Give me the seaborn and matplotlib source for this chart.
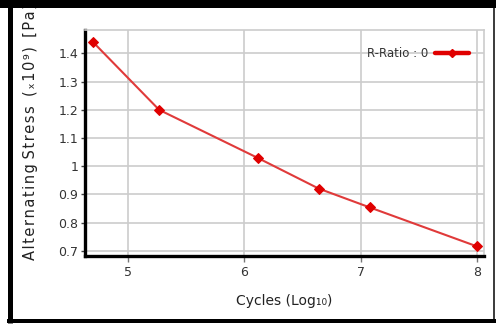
import matplotlib
matplotlib.use("Agg")
import matplotlib.pyplot as plt
from matplotlib.lines import Line2D
import seaborn as sns
import pandas as pd

cycles_log = [4.70, 5.27, 6.115, 6.64, 7.08, 8.0]
stress = [1.441, 1.200, 1.030, 0.921, 0.854, 0.716]
series_name = "R-Ratio : 0"
x_ticks = [5, 6, 7, 8]
y_ticks = [0.7, 0.8, 0.9, 1.0, 1.1, 1.2, 1.3, 1.4]
y_tick_labels = ["0.7", "0.8", "0.9", "1", "1.1", "1.2", "1.3", "1.4"]
y_label_words = ["Alternating", "Stress", "(ₓ10⁹)", "[Pa]"]
x_label = "Cycles (Log₁₀)"

df = pd.DataFrame({"x": cycles_log, "y": stress})

sns.set_style("whitegrid")
plt.rcParams["font.family"] = ["DejaVu Sans"]

fig = plt.figure(figsize=(4.96, 3.26), dpi=100)
ax = fig.add_axes([85 / 496, 70 / 326, 399 / 496, 226 / 326])

sns.lineplot(data=df, x="x", y="y", ax=ax, color="#e03a3a", linewidth=1.5,
             marker="D", markersize=5, markerfacecolor="#e00000",
             markeredgecolor="#e00000")

ax.set_xlim(4.633, 8.06)
ax.set_ylim(0.682, 1.483)
ax.set_xticks(x_ticks)
ax.set_xticklabels([str(t) for t in x_ticks])
ax.set_yticks(y_ticks)
ax.set_yticklabels(y_tick_labels)
ax.grid(True, color="#cccccc", linewidth=1.2)

for s in ["left", "bottom"]:
    ax.spines[s].set_color("black")
    ax.spines[s].set_linewidth(2.4)
for s in ["top", "right"]:
    ax.spines[s].set_color("#cccccc")
    ax.spines[s].set_linewidth(1.2)

ax.tick_params(axis="y", which="both", left=True, length=3, width=1,
               color="#444444", labelsize=9, labelcolor="#333333", pad=2)
ax.tick_params(axis="x", which="both", bottom=True, length=4, width=1,
               color="#777777", labelsize=9, labelcolor="#333333", pad=3)

ax.set_xlabel(x_label, fontsize=10, color="#222222", labelpad=11)
ax.set_ylabel("")

words = ["\u200a".join(w) for w in y_label_words]
spaced = words[0] + " " + words[1] + "  " + words[2] + "  " + words[3]
fig.text(31 / 496, 1 - 260 / 326, spaced,
         rotation=90, ha="center", va="bottom", fontsize=10.5, color="#222222")

handle = Line2D([], [], color="#e00000", linewidth=3.2, marker="D",
                markersize=4, markerfacecolor="#e00000")
leg = ax.legend([handle], [series_name], loc="upper right", frameon=False,
                fontsize=8.5, handlelength=2.9, handletextpad=0.6,
                bbox_to_anchor=(0.99, 0.97), markerfirst=False)
for t in leg.get_texts():
    t.set_color("#333333")

# outer frame of the screenshot
def fline(x0, y0, x1, y1, w):
    fig.add_artist(Line2D([x0 / 496, x1 / 496], [1 - y0 / 326, 1 - y1 / 326],
                          transform=fig.transFigure, color="black",
                          linewidth=w * 0.72, solid_capstyle="butt",
                          zorder=20))

fline(0, 4, 496, 4, 8)
fline(9.5, 0, 9.5, 323, 5)
fline(7, 321, 496, 321, 4)
fline(494, 0, 494, 323, 1.5)

fig.savefig("out.png", dpi=100)
